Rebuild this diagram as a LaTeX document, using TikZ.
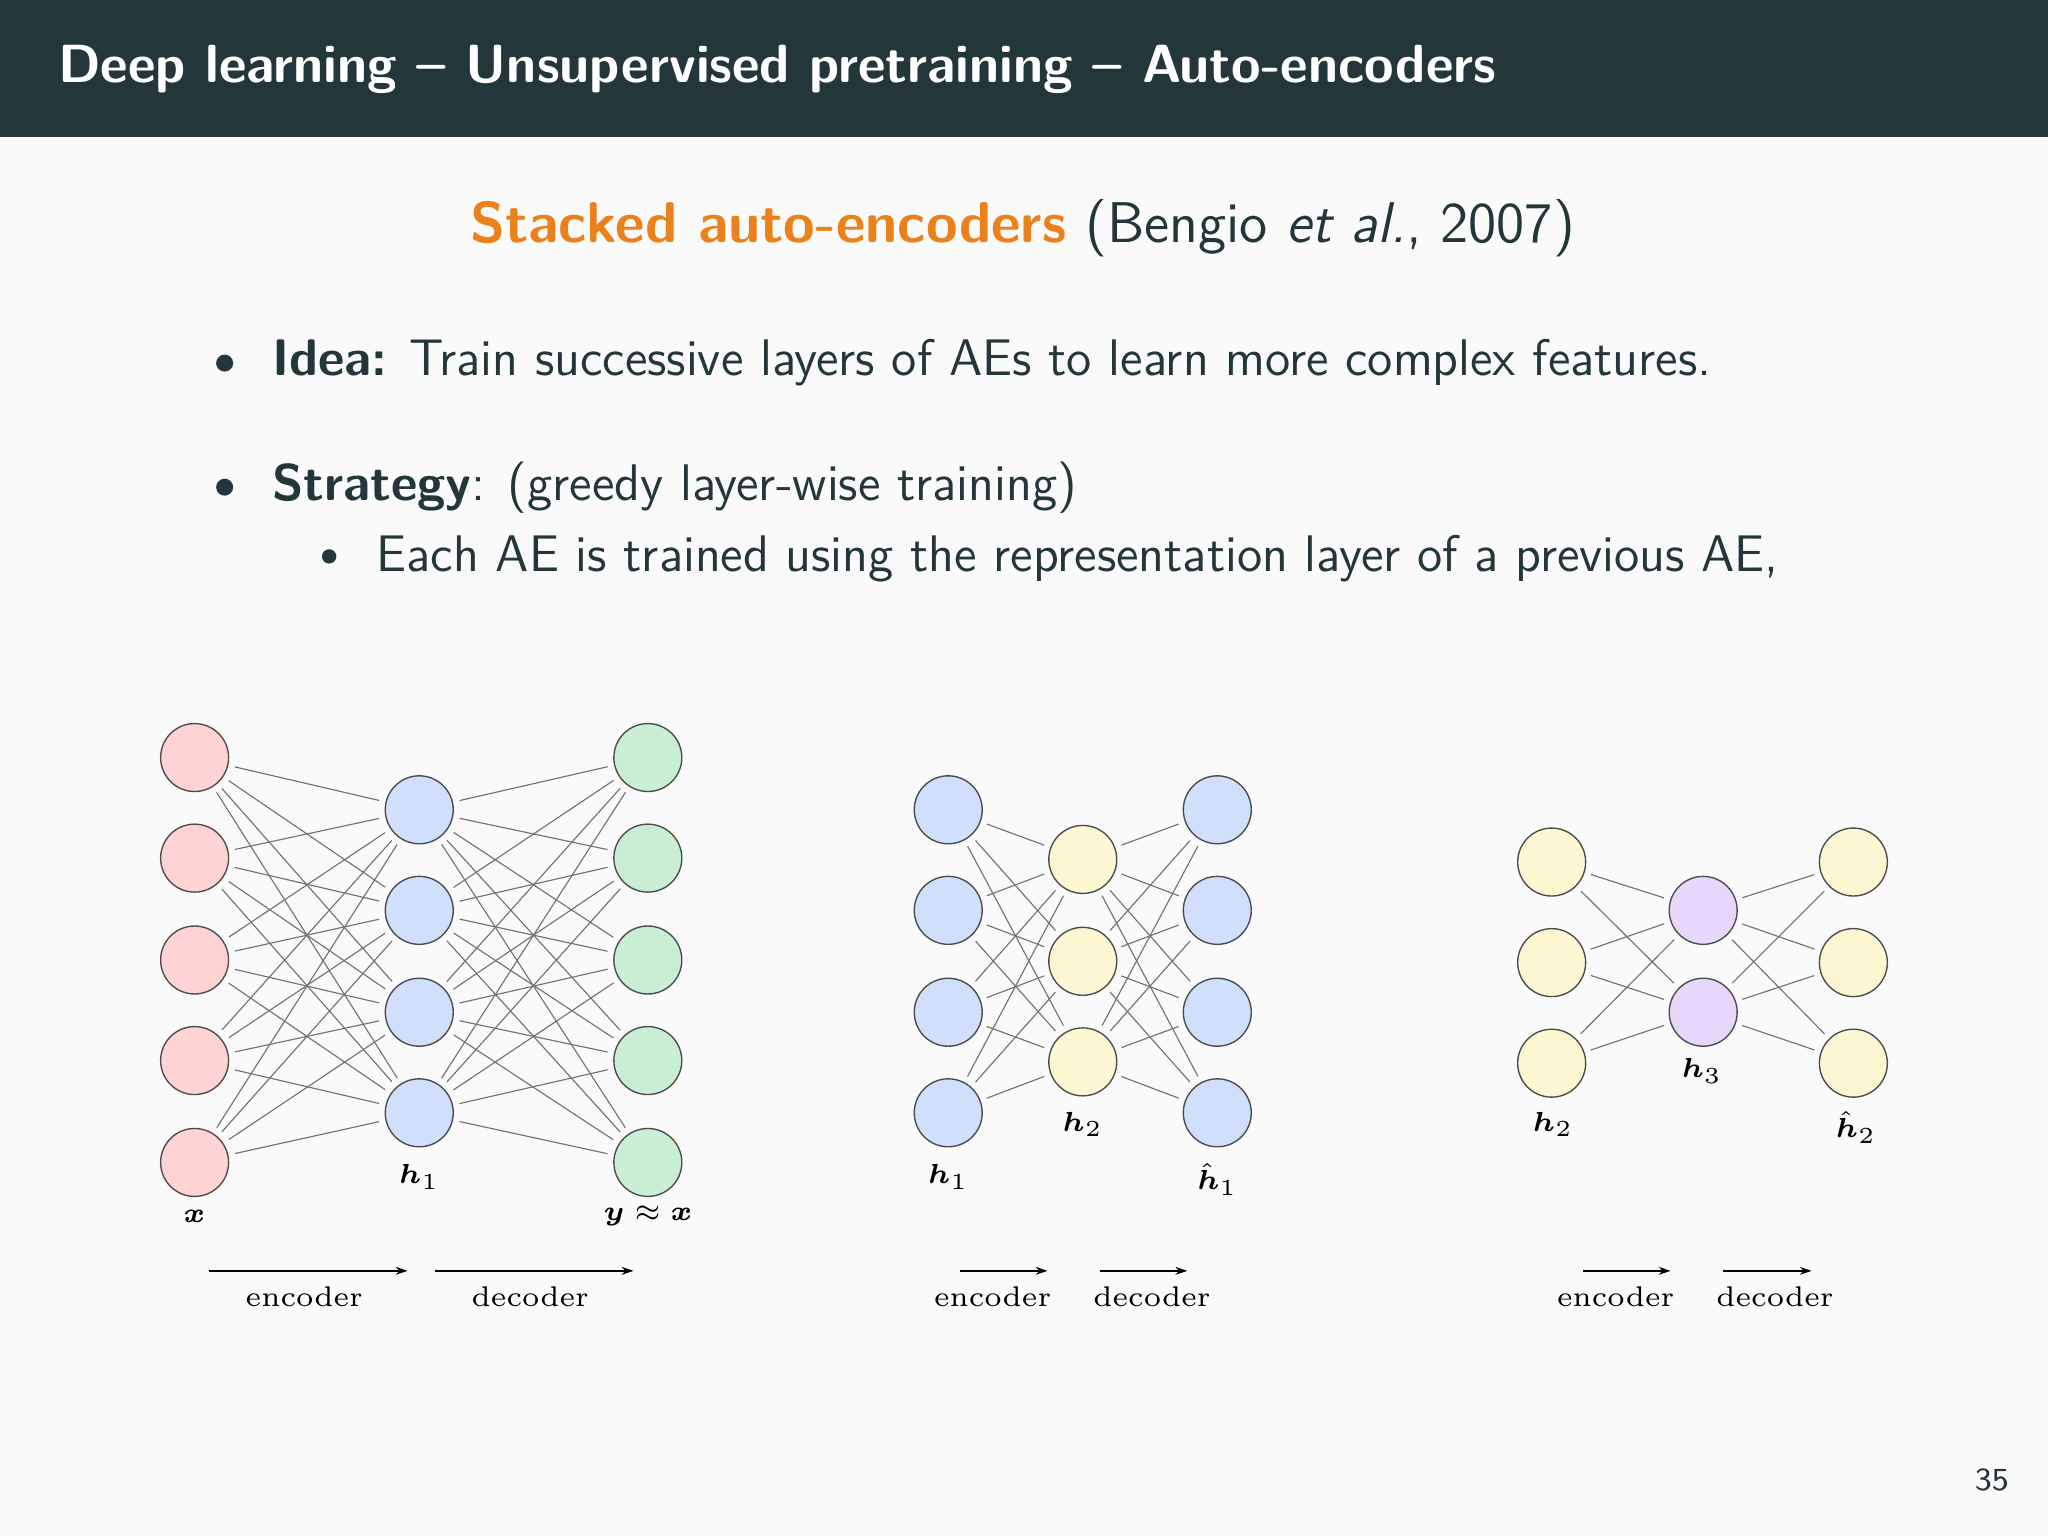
\documentclass[tikz,border=0pt]{standalone}
\usepackage{amsmath,bm}
\usetikzlibrary{arrows.meta}
\definecolor{bar}{HTML}{23373B}
\definecolor{txt}{HTML}{23373B}
\definecolor{org}{HTML}{EB811B}
\definecolor{cr}{HTML}{FFD2D4}
\definecolor{cb}{HTML}{CFDFFC}
\definecolor{cg}{HTML}{C9EED3}
\definecolor{cy}{HTML}{FDF6D2}
\definecolor{cp}{HTML}{E6D7FB}
\tikzset{
 neu/.style={circle,draw=black!70,line width=0.3pt,minimum size=0.52cm,inner sep=0pt},
 wire/.style={draw=black!55,line width=0.25pt,shorten <=0.05cm,shorten >=0.05cm},
 lab/.style={font=\fontsize{6.2}{7}\selectfont,inner sep=1pt},
 arr/.style={-{Stealth[length=0.09cm,width=0.06cm]},line width=0.35pt},
 bul/.style={circle,fill=txt,inner sep=0pt,minimum size=0.13cm}
}
\begin{document}
\begin{tikzpicture}[x=0.01cm,y=-0.01cm]
\useasboundingbox (0,0) rectangle (1568,1176);
\fill[black!2] (0,0) rectangle (1568,1176);
\fill[bar] (0,0) rectangle (1568,105);
\node[anchor=west,text=white,font=\sffamily\bfseries\fontsize{11.7}{14}\selectfont] (title) at (32,53) {Deep learning -- Unsupervised pretraining -- Auto-encoders};
\node[text=txt,font=\sffamily\fontsize{12.5}{15}\selectfont] (sub) at (783,175) {{\color{org}\bfseries Stacked auto-encoders} (Bengio \textit{et al.}, 2007)};
\node[bul] (b1) at (172,278) {};
\node[anchor=west,text=txt,font=\sffamily\fontsize{11.2}{13}\selectfont] (t1) at (196,278) {\textbf{Idea:} Train successive layers of AEs to learn more complex features.};
\node[bul] (b2) at (172,373) {};
\node[anchor=west,text=txt,font=\sffamily\fontsize{11.2}{13}\selectfont] (t2) at (196,373) {\textbf{Strategy}: (greedy layer-wise training)};
\node[bul,minimum size=0.11cm] (b3) at (252,426) {};
\node[anchor=west,text=txt,font=\sffamily\fontsize{11.2}{13}\selectfont] (t3) at (276,428) {Each AE is trained using the representation layer of a previous AE,};
% Net 1
\foreach \y [count=\i] in {580,657,735,812,890}{
 \node[neu,fill=cr] (a\i) at (149,\y) {};
 \node[neu,fill=cg] (c\i) at (496,\y) {};}
\foreach \y [count=\i] in {620,697,775,852}{\node[neu,fill=cb] (b\i) at (321,\y) {};}
\foreach \i in {1,...,5}{\foreach \j in {1,...,4}{\draw[wire] (a\i)--(b\j); \draw[wire] (b\j)--(c\i);}}
\node[lab] (lx) at (149,931) {$\bm{x}$};
\node[lab] (lh1) at (321,901) {$\bm{h}_1$};
\node[lab] (ly) at (496,931) {$\bm{y}\approx\bm{x}$};
\coordinate (e1s) at (160,973); \coordinate (e1e) at (312,973);
\coordinate (d1s) at (333,973); \coordinate (d1e) at (485,973);
\draw[arr] (e1s)--(e1e); \draw[arr] (d1s)--(d1e);
\node[lab] (le1) at (233,993) {encoder}; \node[lab] (ld1) at (406,993) {decoder};
% Net 2
\foreach \y [count=\i] in {620,697,775,852}{
 \node[neu,fill=cb] (p\i) at (726,\y) {};
 \node[neu,fill=cb] (r\i) at (932,\y) {};}
\foreach \y [count=\i] in {658,736,813}{\node[neu,fill=cy] (q\i) at (829,\y) {};}
\foreach \i in {1,...,4}{\foreach \j in {1,...,3}{\draw[wire] (p\i)--(q\j); \draw[wire] (q\j)--(r\i);}}
\node[lab] (lh1b) at (726,901) {$\bm{h}_1$};
\node[lab] (lh2) at (829,861) {$\bm{h}_2$};
\node[lab] (lh1h) at (932,903) {$\hat{\bm{h}}_1$};
\coordinate (e2s) at (735,973); \coordinate (e2e) at (802,973);
\coordinate (d2s) at (842,973); \coordinate (d2e) at (909,973);
\draw[arr] (e2s)--(e2e); \draw[arr] (d2s)--(d2e);
\node[lab] (le2) at (760,993) {encoder}; \node[lab] (ld2) at (882,993) {decoder};
% Net 3
\foreach \y [count=\i] in {660,737,814}{
 \node[neu,fill=cy] (u\i) at (1188,\y) {};
 \node[neu,fill=cy] (w\i) at (1419,\y) {};}
\foreach \y [count=\i] in {697,775}{\node[neu,fill=cp] (v\i) at (1304,\y) {};}
\foreach \i in {1,...,3}{\foreach \j in {1,2}{\draw[wire] (u\i)--(v\j); \draw[wire] (v\j)--(w\i);}}
\node[lab] (lh2b) at (1189,861) {$\bm{h}_2$};
\node[lab] (lh3) at (1303,820) {$\bm{h}_3$};
\node[lab] (lh2h) at (1421,863) {$\hat{\bm{h}}_2$};
\coordinate (e3s) at (1212,973); \coordinate (e3e) at (1279,973);
\coordinate (d3s) at (1319,973); \coordinate (d3e) at (1387,973);
\draw[arr] (e3s)--(e3e); \draw[arr] (d3s)--(d3e);
\node[lab] (le3) at (1237,993) {encoder}; \node[lab] (ld3) at (1359,993) {decoder};
\node[text=txt,font=\sffamily\fontsize{7}{8}\selectfont] (pg) at (1525,1133) {35};
\end{tikzpicture}
\end{document}
